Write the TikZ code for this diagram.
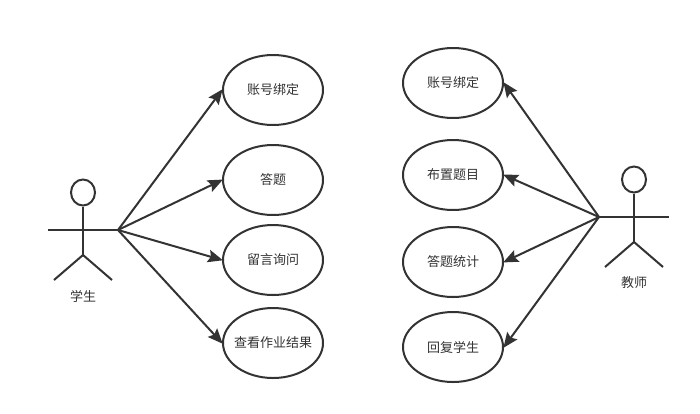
\documentclass[tikz,border=0pt]{standalone}
\usepackage{fontspec}
\setmainfont{Noto Sans CJK SC}
\usetikzlibrary{arrows.meta,shapes.geometric}
\definecolor{ink}{HTML}{333333}
\tikzset{
  usecase/.style={draw=ink,line width=2pt,ellipse,minimum width=100pt,minimum height=70pt,inner sep=0pt,text=ink,font=\fontsize{13pt}{15pt}\selectfont,fill=white},
  limb/.style={draw=ink,line width=2pt},
  headshape/.style={draw=ink,line width=2pt,ellipse,minimum width=24pt,minimum height=26pt,inner sep=0pt},
  conn/.style={draw=ink,line width=2pt,-{Stealth[length=15pt,width=12.5pt,inset=2.5pt]},shorten >=-1pt},
  lbl/.style={text=ink,font=\fontsize{13pt}{15pt}\selectfont,inner sep=0pt}
}
\begin{document}
\begin{tikzpicture}[x=1pt,y=-1pt]
\useasboundingbox (0,0) rectangle (700,413);
% left actor
\node[headshape] (h1) at (83,192.5) {};
\coordinate (n1) at (83,255);
\coordinate (al1) at (48,230);
\coordinate (ar1) at (118,230);
\coordinate (fl1) at (54,280);
\coordinate (fr1) at (112,280);
\draw[limb] (h1.south) -- (n1);
\draw[limb] (al1) -- (ar1);
\draw[limb] (fl1) -- (n1) -- (fr1);
\node[lbl] (t1) at (83,296) {学生};
% right actor
\node[headshape] (h2) at (634,179.5) {};
\coordinate (n2) at (634,242);
\coordinate (al2) at (599,217);
\coordinate (ar2) at (669,217);
\coordinate (fl2) at (605,267);
\coordinate (fr2) at (663,267);
\draw[limb] (h2.south) -- (n2);
\draw[limb] (al2) -- (ar2);
\draw[limb] (fl2) -- (n2) -- (fr2);
\node[lbl] (t2) at (634,283) {教师};
% use cases
\node[usecase] (a) at (273,90) {\makebox[0pt]{账号绑定}};
\node[usecase] (b) at (273,180) {\makebox[0pt]{答题}};
\node[usecase] (c) at (273,260) {\makebox[0pt]{留言询问}};
\node[usecase] (d) at (273,343) {\makebox[0pt]{查看作业结果}};
\node[usecase] (e) at (453,83) {\makebox[0pt]{账号绑定}};
\node[usecase] (f) at (453,175) {\makebox[0pt]{布置题目}};
\node[usecase] (g) at (453,262) {\makebox[0pt]{答题统计}};
\node[usecase] (h) at (453,347) {\makebox[0pt]{回复学生}};
% connectors
\draw[conn] (ar1) -- (a.west);
\draw[conn] (ar1) -- (b.west);
\draw[conn] (ar1) -- (c.west);
\draw[conn] (ar1) -- (d.west);
\draw[conn] (al2) -- (e.east);
\draw[conn] (al2) -- (f.east);
\draw[conn] (al2) -- (g.east);
\draw[conn] (al2) -- (h.east);
\end{tikzpicture}
\end{document}
